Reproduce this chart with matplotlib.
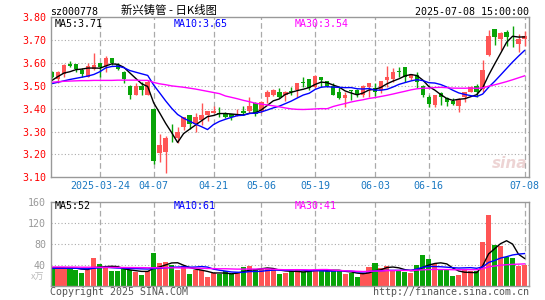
import numpy as np
import pandas as pd
import matplotlib
matplotlib.use('Agg')
from matplotlib import pyplot as plt

# daily K data (80 trading days, last = 2025-07-08)
opens = [3.562, 3.529, 3.553, 3.594, 3.594, 3.568, 3.541, 3.576, 3.600, 3.588,
         3.622, 3.593, 3.562, 3.500, 3.460, 3.500, 3.460, 3.400, 3.206, 3.210,
         3.282, 3.274, 3.320, 3.372, 3.332, 3.350, 3.372, 3.382, 3.381, 3.382,
         3.375, 3.370, 3.390, 3.390, 3.424, 3.390, 3.453, 3.460, 3.475, 3.460,
         3.476, 3.482, 3.516, 3.529, 3.494, 3.538, 3.520, 3.500, 3.475, 3.446,
         3.480, 3.482, 3.460, 3.494, 3.490, 3.482, 3.524, 3.529, 3.565, 3.582,
         3.534, 3.549, 3.500, 3.453, 3.416, 3.468, 3.446, 3.434, 3.413, 3.453,
         3.475, 3.500, 3.487, 3.634, 3.747, 3.703, 3.737, 3.707, 3.684, 3.703]
highs = [3.566, 3.566, 3.596, 3.610, 3.597, 3.578, 3.600, 3.644, 3.602, 3.632,
         3.624, 3.600, 3.563, 3.502, 3.512, 3.519, 3.526, 3.402, 3.291, 3.280,
         3.332, 3.320, 3.365, 3.374, 3.380, 3.424, 3.392, 3.410, 3.406, 3.385,
         3.378, 3.400, 3.410, 3.453, 3.431, 3.432, 3.482, 3.485, 3.490, 3.478,
         3.494, 3.512, 3.538, 3.530, 3.546, 3.540, 3.522, 3.512, 3.494, 3.475,
         3.482, 3.485, 3.502, 3.514, 3.512, 3.522, 3.585, 3.578, 3.582, 3.584,
         3.553, 3.559, 3.502, 3.460, 3.462, 3.475, 3.450, 3.449, 3.445, 3.475,
         3.499, 3.510, 3.615, 3.743, 3.751, 3.734, 3.743, 3.762, 3.725, 3.740]
lows = [3.535, 3.512, 3.538, 3.583, 3.559, 3.538, 3.538, 3.570, 3.538, 3.559,
        3.593, 3.571, 3.512, 3.441, 3.458, 3.460, 3.458, 3.159, 3.166, 3.118,
        3.254, 3.250, 3.306, 3.313, 3.300, 3.328, 3.347, 3.380, 3.365, 3.360,
        3.352, 3.368, 3.372, 3.380, 3.369, 3.380, 3.424, 3.456, 3.445, 3.435,
        3.460, 3.453, 3.497, 3.480, 3.490, 3.497, 3.497, 3.458, 3.441, 3.409,
        3.440, 3.450, 3.453, 3.453, 3.456, 3.470, 3.497, 3.519, 3.541, 3.519,
        3.526, 3.490, 3.453, 3.409, 3.409, 3.416, 3.410, 3.418, 3.387, 3.428,
        3.472, 3.453, 3.475, 3.629, 3.681, 3.659, 3.674, 3.669, 3.649, 3.674]
closes = [3.541, 3.562, 3.593, 3.585, 3.574, 3.553, 3.585, 3.593, 3.582, 3.622,
          3.600, 3.574, 3.529, 3.460, 3.500, 3.482, 3.515, 3.171, 3.240, 3.272,
          3.279, 3.300, 3.365, 3.335, 3.365, 3.372, 3.390, 3.390, 3.378, 3.365,
          3.362, 3.377, 3.382, 3.412, 3.376, 3.428, 3.475, 3.482, 3.453, 3.475,
          3.474, 3.512, 3.512, 3.490, 3.544, 3.524, 3.500, 3.460, 3.446, 3.460,
          3.478, 3.460, 3.500, 3.512, 3.475, 3.520, 3.538, 3.559, 3.562, 3.538,
          3.551, 3.516, 3.460, 3.420, 3.460, 3.453, 3.431, 3.420, 3.443, 3.472,
          3.497, 3.475, 3.570, 3.720, 3.715, 3.732, 3.715, 3.703, 3.703, 3.718]
volumes = [34, 34, 34, 36, 29, 24, 30, 52, 41, 34,
           27, 27, 32, 30, 26, 20, 27, 62, 43, 45,
           39, 29, 38, 22, 29, 29, 17, 23, 22, 28,
           22, 24, 36, 37, 31, 32, 32, 31, 22, 23,
           28, 31, 26, 27, 32, 30, 27, 30, 27, 22,
           24, 16, 24, 35, 43, 33, 37, 29, 27, 26,
           23, 39, 58, 50, 41, 29, 29, 19, 21, 29,
           27, 27, 84, 136, 78, 76, 55, 52, 38, 39]

# moving averages at the left edge (they depend on days before the window)
ma5_head = [3.524, 3.541, 3.556, 3.562]
ma10_head = [3.510, 3.516, 3.522, 3.528, 3.533, 3.538, 3.543, 3.550, 3.562]
ma30_head = [3.516, 3.518, 3.520, 3.521, 3.522, 3.523, 3.523, 3.524, 3.524, 3.524,
             3.524, 3.525, 3.525, 3.525, 3.525, 3.524, 3.524, 3.515, 3.509, 3.505,
             3.500, 3.497, 3.494, 3.490, 3.486, 3.481, 3.476, 3.471, 3.466]
vma5_head = [34, 34, 34, 33]
vma10_head = [33, 33, 33, 33, 33, 32, 32, 33, 34]
vma30_head = [35.5, 35.5, 35.4, 35.3, 35.2, 35.0, 35.0, 35.0, 34.9, 34.8,
              34.7, 34.6, 34.5, 34.4, 34.3, 34.2, 34.0, 34.0, 34.0, 34.0,
              34.0, 33.8, 33.6, 33.4, 33.2, 33.0, 32.6, 32.3, 32.0]

tick_labels = ['2025-03-24', '04-07', '04-21', '05-06', '05-19', '06-03', '06-16', '07-08']
tick_idx = [8, 17, 27, 35, 44, 54, 63, 79]

UP = '#ff5555'
DOWN = '#08a408'
GRID = '#aaaaaa'
FRAME = '#999999'
MONO = 'DejaVu Sans Mono'


def moving_avg(values, n, head):
    ma = pd.Series(values, dtype=float).rolling(n).mean()
    ma.iloc[:n - 1] = head
    return ma.values


W, H = 545, 300
fig = plt.figure(figsize=(W / 100, H / 100), dpi=100)
left, right = 50.7, 529.3
ax = fig.add_axes([left / W, 1 - 177.3 / H, (right - left) / W, 160 / H])
axv = fig.add_axes([left / W, 1 - 285.5 / H, (right - left) / W, 83.5 / H])

x = np.arange(len(closes))
o = np.array(opens)
c = np.array(closes)
colors = [UP if cc >= oo else DOWN for oo, cc in zip(o, c)]

# candles
ax.vlines(x, lows, highs, colors=colors, linewidth=1)
bottoms = np.minimum(o, c)
heights = np.maximum(np.abs(c - o), 0.002)
ax.bar(x, heights, bottom=bottoms, width=0.75, color=colors, linewidth=0)

ax.plot(x, moving_avg(closes, 5, ma5_head), color='black', lw=1)
ax.plot(x, moving_avg(closes, 10, ma10_head), color='#0000ff', lw=1)
ax.plot(x, moving_avg(closes, 30, ma30_head), color='#ff00ff', lw=1)

# volumes
axv.bar(x, volumes, width=0.85, color=colors, linewidth=0)
axv.plot(x, moving_avg(volumes, 5, vma5_head), color='black', lw=1)
axv.plot(x, moving_avg(volumes, 10, vma10_head), color='#0000ff', lw=1)
axv.plot(x, moving_avg(volumes, 30, vma30_head), color='#ff00ff', lw=1)

for a in (ax, axv):
    a.set_xlim(-0.22, 79.8)
    for s in a.spines.values():
        s.set_color(FRAME)
        s.set_linewidth(1)
    a.tick_params(length=0)
    for t in tick_idx:
        a.axvline(t, color=GRID, lw=0.9, ls=(0, (4.5, 2.5)), zorder=0)

ax.set_ylim(3.10, 3.80)
price_ticks = [3.10, 3.20, 3.30, 3.40, 3.50, 3.60, 3.70, 3.80]
ax.set_yticks(price_ticks)
ax.set_yticklabels(['%.2f' % p for p in price_ticks], color='red',
                   fontsize=7.2, family=MONO)
for p in price_ticks[1:-1]:
    ax.axhline(p, color=GRID, lw=0.8, ls=(0, (1, 2)), zorder=0)
ax.tick_params(axis='y', pad=3.4)
ax.set_xticks(tick_idx)
ax.set_xticklabels(tick_labels, color='#1a78c2', fontsize=7.2, family=MONO)
ax.tick_params(axis='x', pad=3)

axv.set_ylim(0, 160)
vol_ticks = [40, 80, 120, 160]
axv.set_yticks(vol_ticks)
axv.set_yticklabels([str(v) for v in vol_ticks], color='#999999',
                    fontsize=7.2, family=MONO)
axv.tick_params(axis='y', pad=3.4)
for v in vol_ticks[:-1]:
    axv.axhline(v, color=GRID, lw=0.8, ls=(0, (1, 2)), zorder=0)
axv.set_xticks([])

# header
fig.text(50 / W, 1 - 11.7 / H, 'sz000778', fontsize=7.2, family=MONO,
         va='center', ha='left')
fig.text(121 / W, 1 - 10.5 / H, '新兴铸管 - 日K线图', fontsize=8.2,
         family=['Noto Sans CJK SC', 'DejaVu Sans'], va='center', ha='left')
fig.text(right / W, 1 - 12 / H, '2025-07-08 15:00:00', fontsize=7.2,
         family=MONO, va='center', ha='right')

# MA legends
ma_close = [moving_avg(closes, n, h)[-1] for n, h in
            ((5, ma5_head), (10, ma10_head), (30, ma30_head))]
ma_vol = [moving_avg(volumes, n, h)[-1] for n, h in
          ((5, vma5_head), (10, vma10_head), (30, vma30_head))]
for xpos, name, val, col in ((55, 'MA5', ma_close[0], 'black'),
                             (174, 'MA10', ma_close[1], '#0000ff'),
                             (295, 'MA30', ma_close[2], '#ff00ff')):
    fig.text(xpos / W, 1 - 24 / H, '%s:%.2f' % (name, val), color=col,
             fontsize=7.2, family=MONO, va='center', ha='left')
for xpos, name, val, col in ((55, 'MA5', ma_vol[0], 'black'),
                             (174, 'MA10', ma_vol[1], '#0000ff'),
                             (295, 'MA30', ma_vol[2], '#ff00ff')):
    fig.text(xpos / W, 1 - 206 / H, '%s:%d' % (name, round(val)), color=col,
             fontsize=7.2, family=MONO, va='center', ha='left')

fig.text(44 / W, 1 - 277 / H, 'x万', color='#bbbbbb', fontsize=6.5,
         family=['Noto Sans CJK SC', 'DejaVu Sans'], va='center', ha='right')

# watermark
fig.text(527 / W, 1 - 163 / H, 'sina', color='#dcaaaa', alpha=0.5,
         fontsize=11, fontweight='bold', style='italic', va='center', ha='right')

# footer
fig.text(50 / W, 1 - 292 / H, 'Copyright 2025 SINA.COM', color='#555555',
         fontsize=7.2, family=MONO, va='center', ha='left')
fig.text(right / W, 1 - 292 / H, 'http://finance.sina.com.cn', color='#555555',
         fontsize=7.2, family=MONO, va='center', ha='right')

fig.savefig('out.png', dpi=100)
